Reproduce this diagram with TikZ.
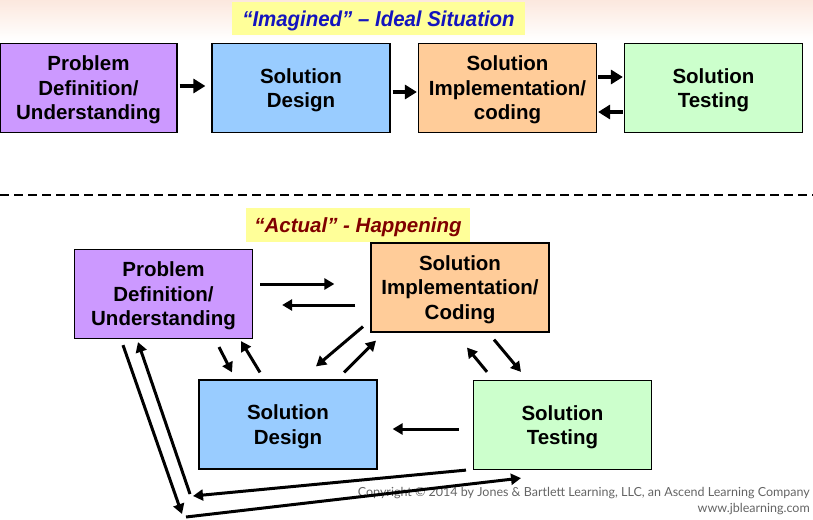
\documentclass[tikz,border=0pt]{standalone}
\usepackage{fontspec}
\setmainfont{Liberation Sans}
\newfontfamily\cpfont{Lato}
\newfontfamily\titlefont[FakeStretch=0.95]{Liberation Sans}
\usetikzlibrary{arrows.meta,calc}
\definecolor{cpurple}{RGB}{204,153,255}
\definecolor{cblue}{RGB}{153,204,255}
\definecolor{corange}{RGB}{255,204,153}
\definecolor{cgreen}{RGB}{204,255,204}
\definecolor{cyellow}{RGB}{255,255,153}
\definecolor{cnavy}{RGB}{20,20,190}
\definecolor{cmaroon}{RGB}{128,0,0}
\definecolor{cpeach}{RGB}{252,232,222}
\definecolor{cgray}{RGB}{100,100,100}
\begin{document}
\begin{tikzpicture}[x=1pt,y=-1pt,
  box/.style={draw=black,line width=1.2pt,minimum width=178pt,minimum height=89pt,inner sep=0pt,align=center,
    font=\fontsize{20.5}{24.5}\selectfont\bfseries,text=black,text depth=-3pt},
  bigarrow/.style={-{Triangle[length=12pt,width=14pt]},line width=4.5pt},
  arr/.style={-{Triangle[length=10pt,width=11pt]},line width=3pt},
  tag/.style={fill=cyellow,inner sep=0pt,text depth=-1.5pt,font=\fontsize{20.5}{24}\selectfont\bfseries\itshape},
  cp/.style={anchor=east,inner sep=0pt,text=cgray,font=\cpfont\fontsize{12.5}{14}\selectfont}
]
\useasboundingbox (0,0) rectangle (813,519);
\shade[top color=cpeach,bottom color=white] (0,0) rectangle (813,40);

% ---------- top: imagined ----------
\node[tag,minimum width=293pt,minimum height=33pt,text=cnavy,font=\titlefont\fontsize{21.5}{24}\selectfont\bfseries\itshape] (ttag) at (378.5,19) {“Imagined” – Ideal Situation};
\node[box,fill=cpurple,minimum width=177pt] (t1) at (88.5,88) {Problem\\Definition/\\Understanding};
\node[box,fill=cblue] (t2) at (301,88) {Solution\\Design};
\node[box,fill=corange] (t3) at (507.5,88) {Solution\\Implementation/\\coding};
\node[box,fill=cgreen] (t4) at (713.5,88) {Solution\\Testing};

\draw[bigarrow] ($(t1.east)+(2,-2)$) -- ($(t2.west)+(-6,-2)$);
\draw[bigarrow] ($(t2.east)+(2,4)$) -- ($(t3.west)+(-1,4)$);
\draw[bigarrow] ($(t3.east)+(1,-11)$) -- ($(t4.west)+(-1,-11)$);
\draw[bigarrow] ($(t4.west)+(-1,24)$) -- ($(t3.east)+(1,24)$);

% ---------- divider ----------
\draw[line width=2pt,dash pattern=on 9pt off 5pt] (0,195) -- (813,195);

% ---------- bottom: actual ----------
\node[tag,minimum width=224pt,minimum height=34pt,text=cmaroon] (btag) at (358,225) {“Actual” - Happening};
\node[box,fill=cpurple] (pd) at (163.5,294) {Problem\\Definition/\\Understanding};
\node[box,fill=corange] (si) at (460,287.5) {Solution\\Implementation/\\Coding};
\node[box,fill=cblue] (sd) at (288,424.5) {Solution\\Design};
\node[box,fill=cgreen] (st) at (562.5,425) {Solution\\Testing};

\coordinate (cA) at (182,514);
\coordinate (cA2) at (186,517);
\coordinate (cB) at (193,496);
\coordinate (cB2) at (190,494);

\draw[arr] ($(pd.east)+(7,-10)$) -- ($(si.west)+(-36,-3.5)$);
\draw[arr] ($(si.west)+(-15,17.5)$) -- ($(pd.east)+(29,11)$);
\draw[arr] ($(pd.south)+(55.5,8)$) -- ($(sd.north)+(-56,-7)$);
\draw[arr] ($(sd.north)+(-28,-7)$) -- ($(pd.south)+(77.5,2)$);
\draw[arr] ($(si.south)+(-97,-6)$) -- ($(sd.north)+(28,-13)$);
\draw[arr] ($(sd.north)+(56,-7)$) -- ($(si.south)+(-84,8)$);
\draw[arr] ($(st.north)+(-75.5,-8)$) -- ($(si.south)+(7,15)$);
\draw[arr] ($(si.south)+(34,7)$) -- ($(st.north)+(-41.5,-8)$);
\draw[arr] ($(st.west)+(-14,4)$) -- ($(sd.east)+(15,4.5)$);

\node[cp] (cp1) at (810,493) {Copyright © 2014 by Jones \& Bartlett Learning, LLC, an Ascend Learning Company};
\node[cp] (cp2) at (810,509) {www.jblearning.com};

\draw[arr] ($(pd.south)+(-40.5,6)$) -- (cA);
\draw[arr] (cA2) -- ($(st.south)+(-41.5,8)$);
\draw[arr] ($(st.south)+(-96.5,0)$) -- (cB);
\draw[arr] (cB2) -- ($(pd.south)+(-25.5,3)$);
\end{tikzpicture}
\end{document}
